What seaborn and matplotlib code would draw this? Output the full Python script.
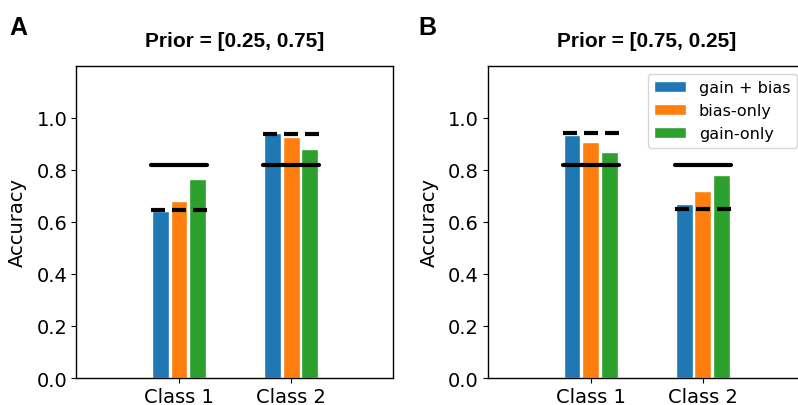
import numpy as np
import pandas as pd
import matplotlib
matplotlib.use("Agg")
import matplotlib.pyplot as plt
import seaborn as sns

# values
classes = ["Class 1", "Class 2"]
models = ["gain + bias", "bias-only", "gain-only"]
titles = ["Prior = [0.25, 0.75]", "Prior = [0.75, 0.25]"]
letters = ["A", "B"]

acc_A = [[0.641, 0.943],   # gain + bias
         [0.679, 0.927],   # bias-only
         [0.763, 0.882]]   # gain-only
acc_B = [[0.933, 0.668],
         [0.908, 0.719],
         [0.870, 0.782]]

optimal_A = [0.82, 0.82]     # solid lines
optimal_B = [0.82, 0.82]
prior_A = [0.645, 0.939]     # dashed lines
prior_B = [0.942, 0.648]

sns.set_style("ticks")
plt.rcParams["font.family"] = ["DejaVu Sans"]
plt.rcParams.update({"text.color": "black", "axes.labelcolor": "black",
                     "xtick.color": "black", "ytick.color": "black",
                     "axes.edgecolor": "black"})

fig = plt.figure(figsize=(7.98, 4.06), dpi=100)
ax1 = fig.add_axes([0.0956, 0.0665, 0.397, 0.769])
ax2 = fig.add_axes([0.6115, 0.0665, 0.397, 0.769])

palette = ["#1f77b4", "#ff7f0e", "#2ca02c"]

for ax, acc, opt, pri, title, show_leg in [
        (ax1, acc_A, optimal_A, prior_A, titles[0], False),
        (ax2, acc_B, optimal_B, prior_B, titles[1], True)]:
    rows = []
    for m, vals in zip(models, acc):
        for c, v in zip(classes, vals):
            rows.append({"cls": c, "model": m, "acc": v})
    df = pd.DataFrame(rows)
    sns.barplot(data=df, x="cls", y="acc", hue="model", hue_order=models,
                palette=palette, width=0.5, gap=0.1, saturation=1,
                legend=show_leg, ax=ax, errorbar=None)
    for i in range(len(classes)):
        ax.plot([i - 0.25, i + 0.25], [opt[i], opt[i]], color="black", lw=3,
                zorder=5)
        ax.plot([i - 0.25, i + 0.25], [pri[i], pri[i]], color="black", lw=3,
                dashes=(3.36, 1.68), zorder=5)
    ax.set_xlim(-0.917, 1.91)
    ax.set_ylim(0, 1.2)
    ax.set_yticks([0, 0.2, 0.4, 0.6, 0.8, 1.0])
    ax.set_yticklabels(["0.0", "0.2", "0.4", "0.6", "0.8", "1.0"])
    ax.tick_params(labelsize=14, pad=3)
    ax.set_xlabel("")
    ax.set_ylabel("Accuracy", fontsize=14, labelpad=7)
    ax.set_title(title, fontsize=15, fontweight="bold",
                 family="Liberation Sans", pad=14)
    for s in ax.spines.values():
        s.set_visible(True)
        s.set_linewidth(1)
    if show_leg:
        ax.legend(loc="upper right", fontsize=11.5, title=None)

# panel letters
fig.text(9 / 798, 1 - 35 / 406, letters[0], fontsize=18, fontweight="bold",
         family="Liberation Sans", va="baseline")
fig.text(418 / 798, 1 - 35 / 406, letters[1], fontsize=18, fontweight="bold",
         family="Liberation Sans", va="baseline")

fig.savefig("out.png", dpi=100)
